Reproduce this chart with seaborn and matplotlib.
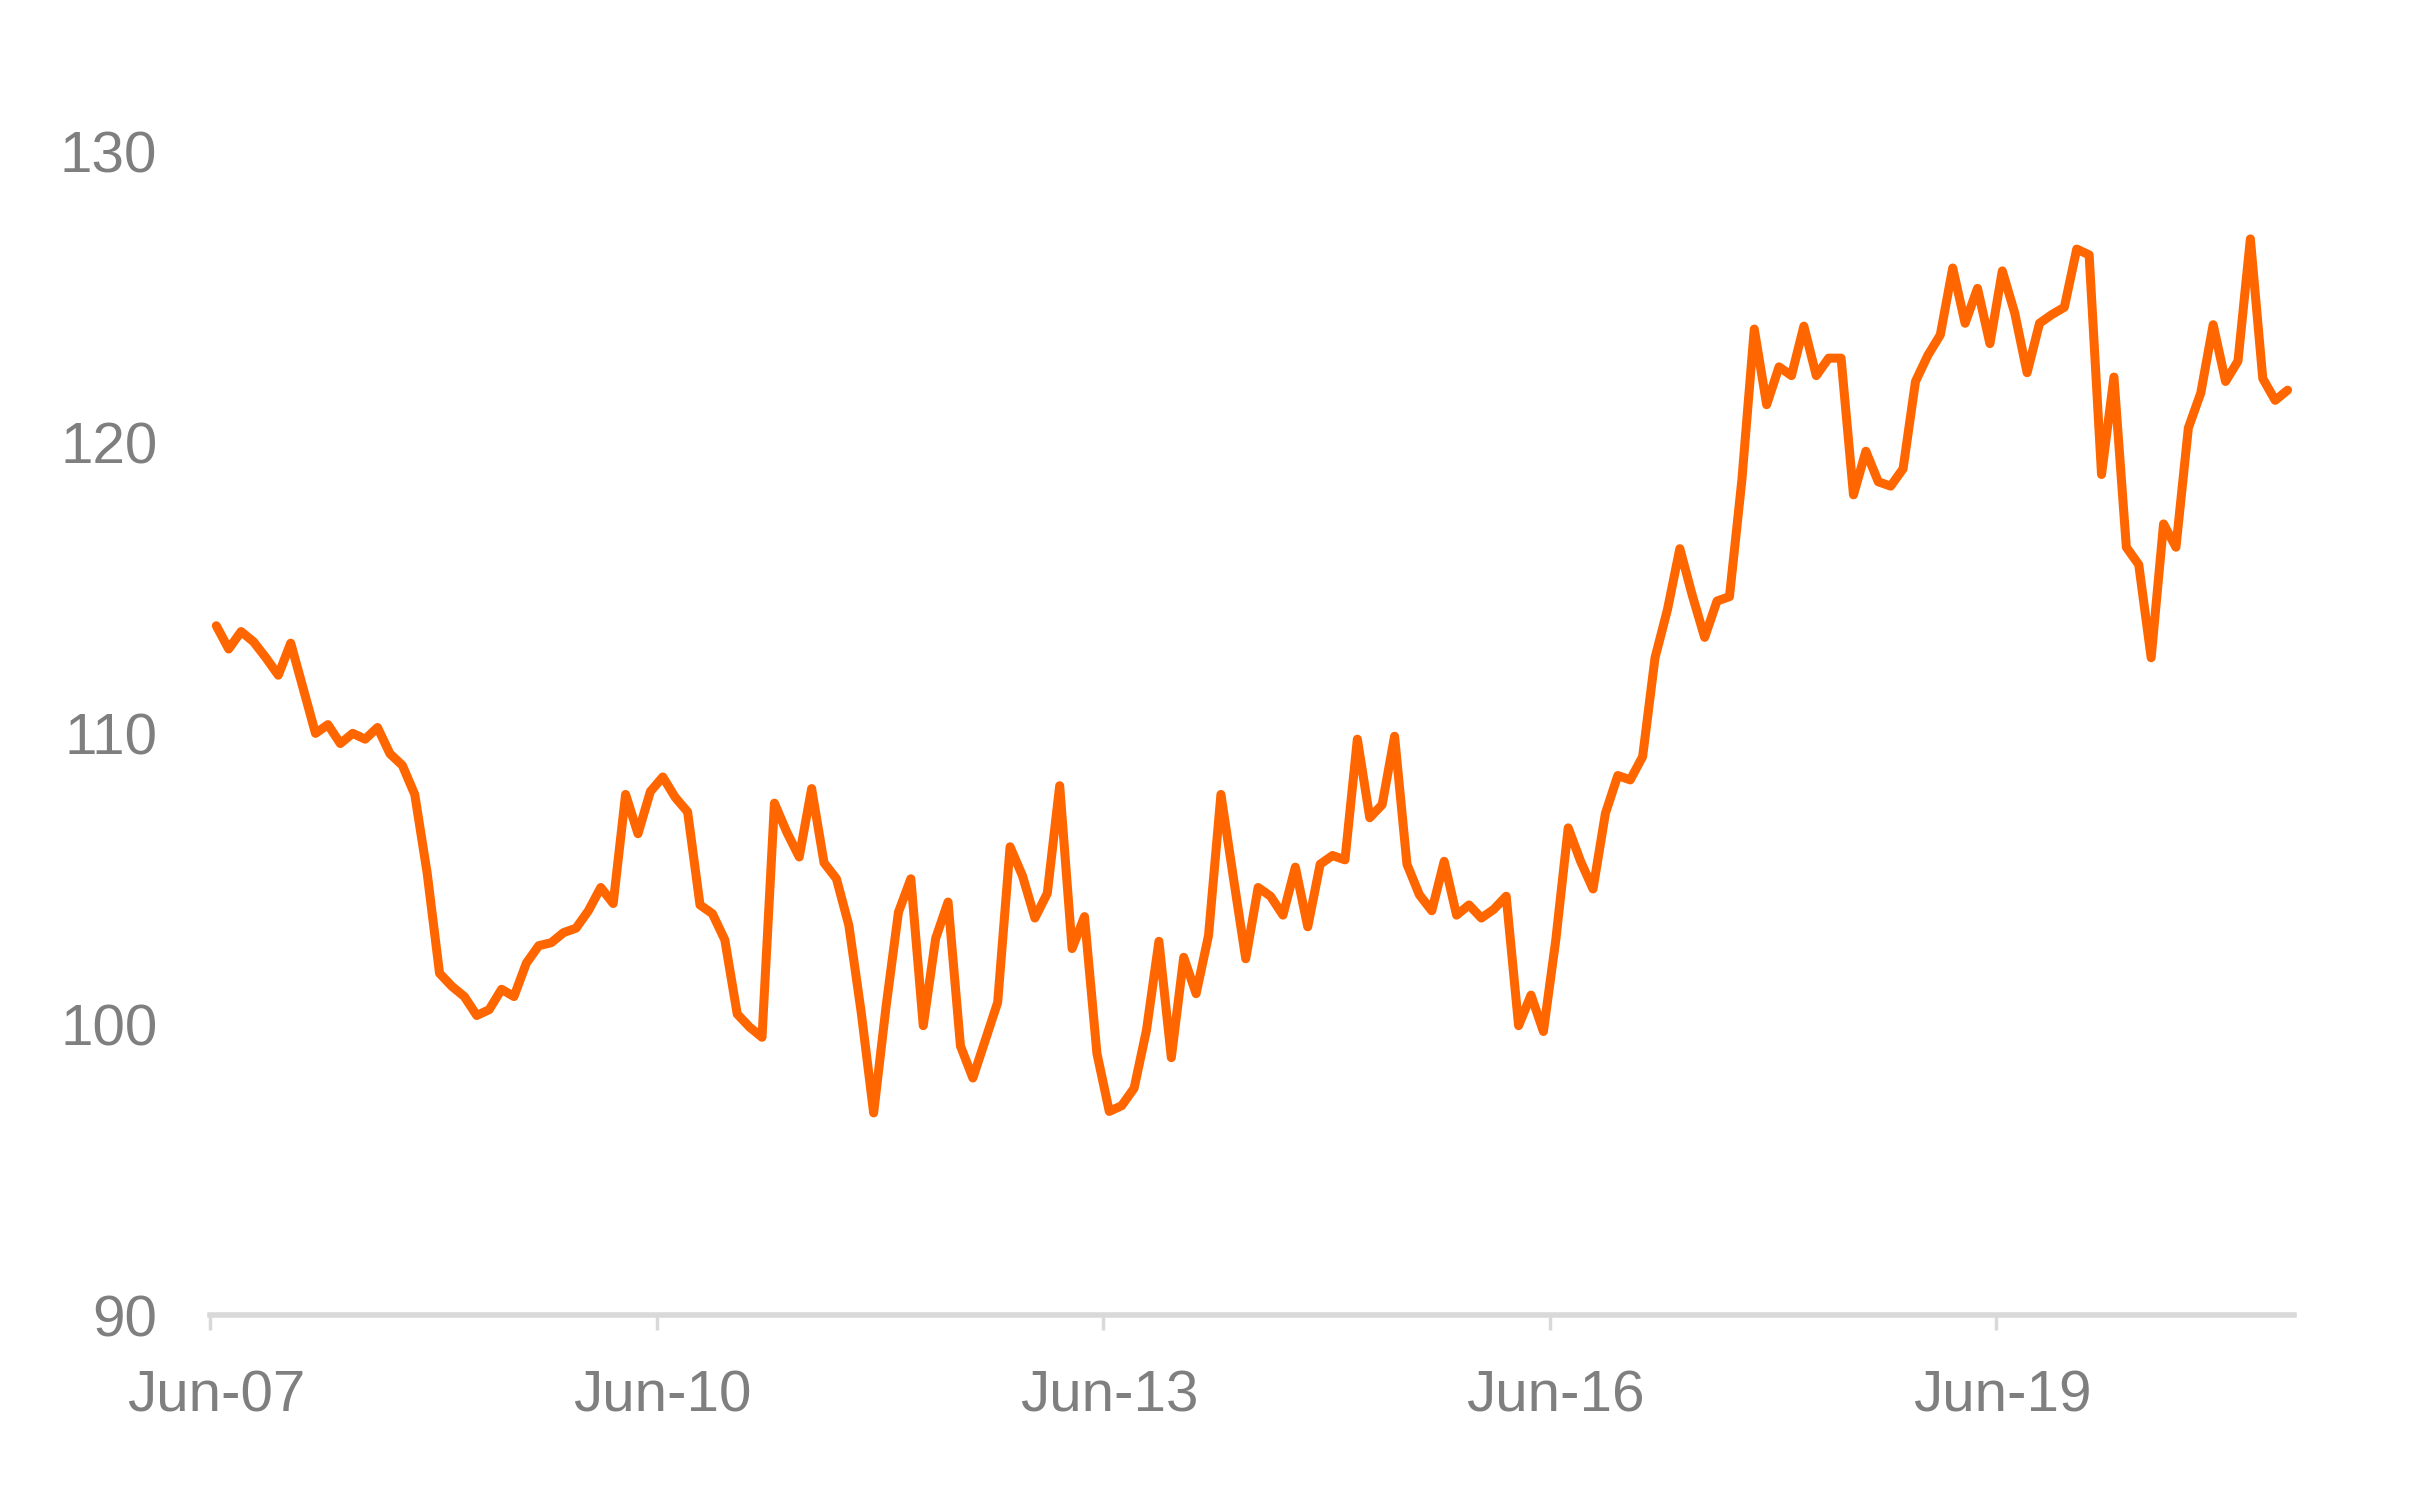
import numpy as np
import pandas as pd
import seaborn as sns
import matplotlib.pyplot as plt
import matplotlib.transforms as mtransforms

# monthly index, Jun-2007 .. May-2021
months = pd.date_range("2007-06-01", periods=168, freq="MS")
values = [
    113.7, 112.9, 113.5, 113.15, 112.6, 112.0, 113.1, 111.55, 110.0, 110.3,
    109.65, 110.0, 109.8, 110.2, 109.3, 108.9, 107.9, 105.2, 101.75, 101.3,
    100.95, 100.3, 100.5, 101.2, 100.95, 102.1, 102.7, 102.8, 103.15, 103.3,
    103.9, 104.7, 104.15, 107.9, 106.55, 108.0, 108.5, 107.8, 107.3, 104.1,
    103.8, 102.9, 100.35, 99.9, 99.55, 107.6, 106.6, 105.75, 108.1, 105.55,
    105.0, 103.4, 100.4, 96.95, 100.6, 103.85, 105.0, 99.95, 102.95, 104.2,
    99.25, 98.15, 99.45, 100.75, 106.1, 105.1, 103.65, 104.5, 108.2, 102.6,
    103.7, 99.0, 97.0, 97.2, 97.8, 99.8, 102.85, 98.85, 102.3, 101.05,
    103.05, 107.9, 105.05, 102.25, 104.7, 104.4, 103.75, 105.4, 103.35, 105.5,
    105.8, 105.65, 109.8, 107.1, 107.55, 109.9, 105.5, 104.45, 103.9, 105.6,
    103.75, 104.1, 103.65, 103.95, 104.4, 99.95, 101.0, 99.75, 102.9, 106.75,
    105.6, 104.65, 107.25, 108.55, 108.4, 109.2, 112.6, 114.25, 116.35, 114.75,
    113.3, 114.55, 114.7, 118.7, 123.9, 121.3, 122.6, 122.3, 124.0, 122.3,
    122.9, 122.9, 118.2, 119.7, 118.65, 118.5, 119.1, 122.1, 123.0, 123.7,
    126.0, 124.1, 125.3, 123.4, 125.9, 124.45, 122.4, 124.1, 124.4, 124.65,
    126.65, 126.45, 118.9, 122.25, 116.4, 115.8, 112.6, 117.2, 116.4, 120.5,
    121.7, 124.05, 122.1, 122.8, 127.0, 122.2, 121.45, 121.8,
]
y_ticks = [90, 100, 110, 120, 130]

df = pd.DataFrame({"pos": np.arange(len(values)), "value": values})

sns.set_style("white")
plt.rcParams["font.family"] = ["Liberation Sans", "DejaVu Sans"]

fig = plt.figure(figsize=(24.26, 15), dpi=100)
ax = fig.add_axes([0.0866, 0.1233, 0.8589, 0.7756])

sns.lineplot(data=df, x="pos", y="value", ax=ax, color="#FF6600",
             linewidth=6.5, solid_capstyle="round", solid_joinstyle="round")

# category-style axis: ticks sit on the left edge of each June every 3 years
tick_idx = [i for i, m in enumerate(months) if m.month == 6 and (m.year - 2007) % 3 == 0]
ax.set_xticks([i - 0.5 for i in tick_idx])
ax.set_xticklabels([months[i].strftime("%b-%y") for i in tick_idx])
ax.set_xlim(-0.5, len(values) - 0.5)
ax.set_ylim(90, 130)
ax.set_yticks(y_ticks)

for side in ["top", "right", "left"]:
    ax.spines[side].set_visible(False)
ax.spines["bottom"].set_color("#d9d9d9")
ax.spines["bottom"].set_linewidth(4)

ax.tick_params(axis="x", bottom=True, direction="out", length=11, width=2.5,
               color="#d9d9d9", pad=28, labelsize=42, labelcolor="#7f7f7f")
ax.tick_params(axis="y", left=False, length=0, pad=38, labelsize=42,
               labelcolor="#7f7f7f")
ax.set_xlabel("")
ax.set_ylabel("")

# nudge date labels a little to the right, as in the source chart
shift = mtransforms.ScaledTranslation(6 / 100, 0, fig.dpi_scale_trans)
for lbl in ax.get_xticklabels():
    lbl.set_transform(lbl.get_transform() + shift)

fig.savefig("out.png", dpi=100)
